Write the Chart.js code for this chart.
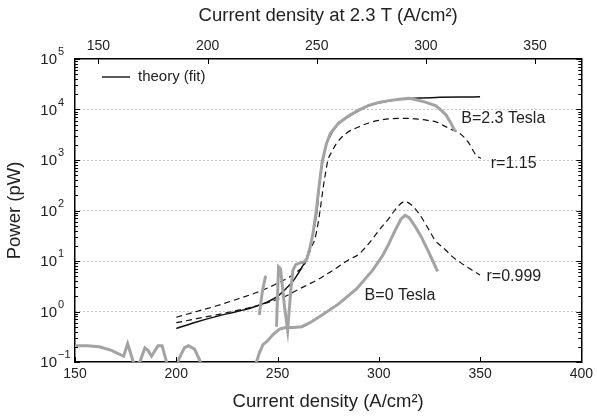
<!DOCTYPE html>
<html>
<head>
<meta charset="utf-8">
<script src="https://cdn.jsdelivr.net/npm/chart.js@4.4.1/dist/chart.umd.min.js"></script>
<style>
  body { margin: 0; background: #fff; }
  #wrap { width: 597px; height: 416px; position: relative; }
</style>
</head>
<body>
<div id="wrap"><canvas id="chart"></canvas></div>
<script>
// 刻度
const xTicks = [150, 200, 250, 300, 350, 400];
const xTopTicks = [150, 200, 250, 300, 350];
const yTicks = [0.1, 1, 10, 100, 1000, 10000, 100000];

// 理论拟合 (B=2.3 T)
const theoryX = [200, 210, 220, 230, 238, 245, 250, 254, 257, 260, 262, 264, 266, 267.5, 269.5, 270.8, 272.4, 274, 276, 278, 281, 285, 290, 295, 300, 305, 310, 320, 330, 340, 350];
const theoryY = [0.46, 0.62, 0.8, 1.0, 1.21, 1.55, 2.0, 2.8, 3.7, 5.5, 7.5, 10.5, 19, 35, 100, 400, 1000, 2000, 3000, 4200, 5600, 7200, 9400, 11800, 13500, 14800, 15800, 16900, 17400, 17700, 17800];

// r=1.15 虚线
const r115X = [200, 210, 220, 230, 240, 250, 255, 260, 262.6, 265, 267, 268.3, 270, 271, 272.4, 274, 274.9, 276.6, 279, 284, 290, 295.5, 300, 305, 310, 313.5, 320, 325, 328.3, 332, 336, 339.8, 344, 348, 350.5];
const r115Y = [0.77, 1.0, 1.3, 1.75, 2.4, 3.6, 4.6, 6.3, 7.7, 12, 20, 26, 55, 100, 255, 650, 1000, 1400, 2100, 3400, 4500, 5500, 6100, 6500, 6700, 6700, 6400, 6000, 5700, 4800, 4000, 3400, 2300, 1250, 1080];

// r=0.999 虚线
const r0999X = [200, 210, 220, 230, 238, 245, 250, 255, 260, 265, 270, 275, 280, 285, 290, 295, 300, 305, 309, 312.7, 316, 320, 325, 328, 330, 333, 336, 340, 345, 350];
const r0999Y = [0.6, 0.72, 0.86, 1.05, 1.24, 1.5, 1.75, 2.1, 2.7, 3.4, 4.3, 5.7, 7.7, 10.5, 13.5, 22, 40, 70, 115, 150, 130, 85, 40, 25, 21, 16.5, 12.5, 9.5, 7, 5.3];

// 实测 B=2.3 T (灰色)
const meas23X = [241, 242.5, 244, 244.5, 246, 249.5, 250.5, 251.5, 253.5, 255, 256.5, 257.6, 259, 261, 263, 264.5, 266, 267.5, 269, 270.5, 272, 274, 276, 280, 285, 290, 295, 300, 305, 310, 315, 318.5, 323, 328.3, 331, 333.3, 335.5, 337.4, 338.2];
const meas23Y = [0.85, 2.5, 4.8, 5, null, 0.5, 7.7, 7, 1.2, 0.43, 2.5, 6.6, 8.5, 9.2, 9.5, 11, 18, 35, 90, 300, 900, 2000, 3300, 5300, 7400, 9700, 12000, 13800, 15000, 16000, 16600, 15600, 14000, 11800, 9500, 7700, 5500, 3900, 3700];

// 实测 B=0 T (灰色)
const meas0X = [150, 156, 162, 168, 174, 176, 178.8, 180, 182, 184.5, 186, 187.8, 191, 193, 195.2, 197, 200, 201.5, 204, 206, 209, 211.5, 213, 236, 239.6, 241, 242.8, 245, 247.8, 251, 254, 258, 262, 266, 272, 280, 289, 297, 302, 305, 308, 311, 313, 315, 318, 321, 325, 329];
const meas0Y = [0.21, 0.21, 0.2, 0.17, 0.13, 0.23, 0.1, 0.09, 0.1, 0.19, 0.17, 0.13, 0.21, 0.21, 0.1, 0.07, 0.08, 0.12, 0.19, 0.21, 0.18, 0.11, 0.07, 0.06, 0.1, 0.15, 0.22, 0.26, 0.35, 0.45, 0.48, 0.48, 0.5, 0.6, 0.85, 1.4, 2.8, 6.6, 13, 22, 40, 68, 80, 72, 48, 30, 14, 6.2];

function pts(xs, ys) {
    return xs.map(function(x, i) { return { x: x, y: ys[i] }; });
}

const FONT = "'Liberation Sans', Arial, Helvetica, sans-serif";
const GRAY = '#a3a3a3';

// 图中文字标注 (数据坐标)
const notes = [
    { text: 'B=2.3 Tesla', x: 340.7, y: 6700 },
    { text: 'r=1.15', x: 355.3, y: 860 },
    { text: 'r=0.999', x: 353.2, y: 4.9 },
    { text: 'B=0 Tesla', x: 293, y: 2.1 }
];

// 自定义绘制：内向刻度、上标刻度标签、图例、标注
const decorPlugin = {
    id: 'decor',
    afterDraw: function(chart) {
        const ctx = chart.ctx;
        const a = chart.chartArea;
        const sx = chart.scales.x, sx2 = chart.scales.x2, sy = chart.scales.y;
        ctx.save();
        ctx.strokeStyle = '#000';
        ctx.lineWidth = 1;
        // x ticks
        xTicks.forEach(function(v) {
            const px = Math.round(sx.getPixelForValue(v)) + 0.5;
            ctx.beginPath(); ctx.moveTo(px, a.bottom); ctx.lineTo(px, a.bottom - 5); ctx.stroke();
        });
        xTopTicks.forEach(function(v) {
            const px = Math.round(sx2.getPixelForValue(v)) + 0.5;
            ctx.beginPath(); ctx.moveTo(px, a.top); ctx.lineTo(px, a.top + 5); ctx.stroke();
        });
        // y ticks (log minor)
        for (let e = -1; e <= 5; e++) {
            for (let m = 1; m <= 9; m++) {
                const v = m * Math.pow(10, e);
                if (v > 1e5) break;
                const py = Math.round(sy.getPixelForValue(v)) + 0.5;
                const len = m === 1 ? 5 : 3;
                ctx.beginPath(); ctx.moveTo(a.left, py); ctx.lineTo(a.left + len, py); ctx.stroke();
                ctx.beginPath(); ctx.moveTo(a.right, py); ctx.lineTo(a.right - len, py); ctx.stroke();
            }
        }
        // y tick labels with superscripts
        ctx.fillStyle = '#222';
        ctx.textBaseline = 'middle';
        yTicks.forEach(function(v) {
            const py = sy.getPixelForValue(v);
            const ex = Math.round(Math.log10(v));
            ctx.font = '15px ' + FONT;
            ctx.textAlign = 'right';
            ctx.fillText('10', 57, py + 1);
            ctx.font = '11px ' + FONT;
            ctx.textAlign = 'left';
            ctx.fillText(ex < 0 ? '\u2212' + (-ex) : String(ex), 58, py - 7);
        });
        // legend
        ctx.strokeStyle = '#222';
        ctx.lineWidth = 1.5;
        ctx.beginPath(); ctx.moveTo(102, 77); ctx.lineTo(130, 77); ctx.stroke();
        ctx.font = '15px ' + FONT;
        ctx.textAlign = 'left';
        ctx.fillText('theory (fit)', 138, 77);
        // notes
        ctx.font = '16px ' + FONT;
        notes.forEach(function(n) {
            ctx.fillText(n.text, sx.getPixelForValue(n.x), sy.getPixelForValue(n.y));
        });
        ctx.restore();
    }
};

new Chart(document.getElementById('chart'), {
    type: 'line',
    data: {
        datasets: [
            {
                label: 'B=0 Tesla',
                data: pts(meas0X, meas0Y),
                borderColor: GRAY,
                borderWidth: 3,
                pointRadius: 0,
                spanGaps: false
            },
            {
                label: 'B=2.3 Tesla',
                data: pts(meas23X, meas23Y),
                borderColor: GRAY,
                borderWidth: 3,
                pointRadius: 0,
                spanGaps: false
            },
            {
                label: 'r=0.999',
                data: pts(r0999X, r0999Y),
                borderColor: '#111',
                borderWidth: 1.2,
                borderDash: [6, 4],
                pointRadius: 0,
                cubicInterpolationMode: 'monotone'
            },
            {
                label: 'r=1.15',
                data: pts(r115X, r115Y),
                borderColor: '#111',
                borderWidth: 1.2,
                borderDash: [6, 4],
                pointRadius: 0,
                cubicInterpolationMode: 'monotone'
            },
            {
                label: 'theory (fit)',
                data: pts(theoryX, theoryY),
                borderColor: '#111',
                borderWidth: 1.5,
                pointRadius: 0,
                cubicInterpolationMode: 'monotone'
            }
        ]
    },
    options: {
        responsive: true,
        maintainAspectRatio: false,
        devicePixelRatio: 1,
        animation: false,
        layout: { padding: 0 },
        plugins: {
            legend: { display: false },
            tooltip: { enabled: false }
        },
        scales: {
            x: {
                type: 'linear',
                position: 'bottom',
                min: 150,
                max: 400,
                afterBuildTicks: function(s) { s.ticks = xTicks.map(function(v) { return { value: v }; }); },
                afterFit: function(s) { s.height = 54; },
                grid: { display: false, drawTicks: false },
                border: { display: true, color: '#000', width: 1.5 },
                ticks: { padding: 4, color: '#222', font: { size: 14, family: FONT } },
                title: {
                    display: true,
                    text: 'Current density (A/cm\u00b2)',
                    color: '#222',
                    font: { size: 18.5, family: FONT },
                    padding: { top: 0, bottom: 3 }
                }
            },
            x2: {
                type: 'linear',
                position: 'top',
                min: 139.25,
                max: 371.2,
                afterBuildTicks: function(s) { s.ticks = xTopTicks.map(function(v) { return { value: v }; }); },
                afterFit: function(s) { s.height = 59; },
                grid: { display: false, drawTicks: false },
                border: { display: true, color: '#000', width: 1.5 },
                ticks: { padding: 4, color: '#222', font: { size: 14, family: FONT } },
                title: {
                    display: true,
                    text: 'Current density at 2.3 T (A/cm\u00b2)',
                    color: '#222',
                    font: { size: 18.5, family: FONT },
                    padding: { top: 5, bottom: 0 }
                }
            },
            y: {
                type: 'logarithmic',
                position: 'left',
                min: 0.1,
                max: 100000,
                afterBuildTicks: function(s) { s.ticks = yTicks.map(function(v) { return { value: v }; }); },
                afterFit: function(s) { s.width = 75; },
                grid: {
                    drawTicks: false,
                    color: function(c) {
                        const v = c.tick && c.tick.value;
                        return (v === 0.1 || v === 100000) ? 'rgba(0,0,0,0)' : '#8a8a8a';
                    },
                    lineWidth: 1
                },
                border: { display: true, color: '#000', width: 1.5, dash: [1, 3] },
                ticks: { display: false },
                title: {
                    display: true,
                    text: 'Power (pW)',
                    color: '#222',
                    font: { size: 18.5, family: FONT },
                    padding: { top: 4, bottom: 0 }
                }
            },
            y2: {
                type: 'logarithmic',
                position: 'right',
                min: 0.1,
                max: 100000,
                afterFit: function(s) { s.width = 15; },
                grid: { display: false, drawTicks: false },
                border: { display: true, color: '#000', width: 1.5 },
                ticks: { display: false }
            }
        }
    },
    plugins: [decorPlugin]
});
</script>
</body>
</html>
